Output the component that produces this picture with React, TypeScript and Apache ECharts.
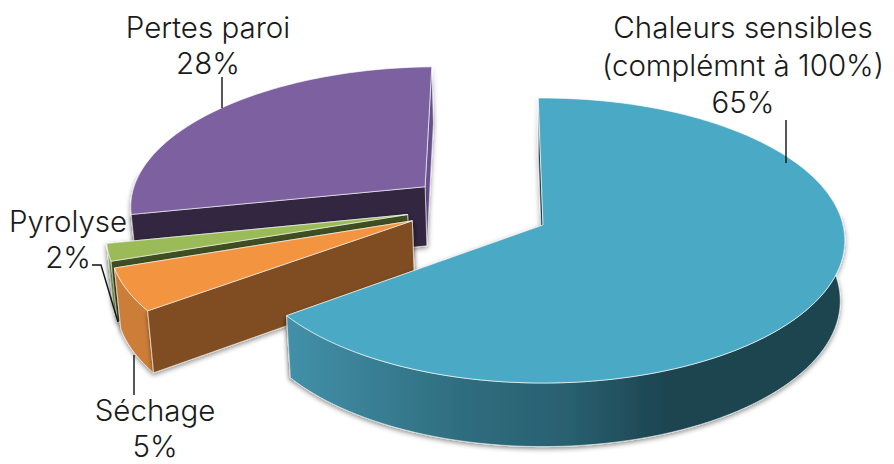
import React, { useEffect, useRef } from "react";
import * as echarts from "echarts";

const names = ["Chaleurs sensibles\n(complémnt à 100%)", "Séchage", "Pyrolyse", "Pertes paroi"];
const values = [65, 5, 2, 28];

const startAngle = -1;
const drawOrder = [3, 2, 1, 0];
const offsets = [[0, 0], [-0.437, 0.03], [-0.455, 0.075], [-0.405, 0.28]];
const topColors = ["#4aa9c5", "#f39540", "#9bbb59", "#7d60a0"];
const startWall = ["#1c4450", "#804e22", "#3f4f22", "#32253f"];
const endWall = ["#1c4450", "#804e22", "#3f4f22", "#6a4f8e"];
const labelCentreX = [743, 155, 68, 208];
const labelLinesY = [[27, 65, 102], [410, 446], [221, 257], [27, 63]];
const leaders = [
  [[786, 120], [786, 163]],
  [[134, 355], [134, 395]],
  [[92, 265], [101, 265], [118, 322]],
  [[222, 77], [222, 108]],
];

const CX = 543, CY = 225, B = 300, A = 140.8, K = 0.109, D = 60, M = 0.015;

function proj(x: number, y: number, z: number): number[] {
  const den = 1 + K * y;
  const sx = CX + (B * x) / den;
  const sy = CY - (A * y) / den + (D * z) / Math.sqrt(den);
  return [CX + (sx - CX) * (1 - M * z), sy];
}

function wallFill(i: number): any {
  if (i === 0) {
    return new echarts.graphic.LinearGradient(290, 0, 845, 0, [
      { offset: 0, color: "#4290a8" },
      { offset: 0.3, color: "#2f6e80" },
      { offset: 0.5, color: "#29606f" },
      { offset: 0.68, color: "#1c4450" },
      { offset: 1, color: "#1c4450" },
    ], true);
  }
  if (i === 1) return "#cc7e39";
  if (i === 2) return "#8aa84e";
  return "#5f4a7f";
}

function sliceGroup(i: number) {
  const total = values.reduce((s, v) => s + v, 0);
  const before = values.slice(0, i).reduce((s, v) => s + v, 0);
  const a0 = startAngle + (before / total) * 360;
  const a1 = a0 + (values[i] / total) * 360;
  const [ox, oy] = offsets[i];
  const n = Math.max(4, Math.round((a1 - a0) / 2));
  const arc: number[][] = [];
  const frontArc: number[][] = [];
  for (let k = 0; k <= n; k++) {
    const t = ((a0 + ((a1 - a0) * k) / n) * Math.PI) / 180;
    const p = [ox + Math.sin(t), oy + Math.cos(t)];
    arc.push(p);
    if (Math.cos(t) < 0.12) frontArc.push(p);
  }
  const P = (p: number[], z: number) => proj(p[0], p[1], z);
  const apex = [ox, oy];
  const edge = "rgba(255,255,255,0.7)";
  const first = arc[0];
  const last = arc[arc.length - 1];
  const outer = [...frontArc.map((p) => P(p, 0)), ...frontArc.slice().reverse().map((p) => P(p, 1))];
  const shadow = { shadowBlur: 5, shadowColor: "rgba(0,0,0,0.45)", shadowOffsetY: 2 };
  return [
    {
      type: "polygon",
      shape: { points: [P(apex, 0), P(last, 0), P(last, 1), P(apex, 1)] },
      style: { fill: endWall[i], stroke: edge, lineWidth: 0.8, ...shadow },
    },
    {
      type: "polygon",
      shape: { points: outer },
      style: { fill: wallFill(i), stroke: edge, lineWidth: 0.8, ...shadow },
    },
    {
      type: "polygon",
      shape: { points: [P(apex, 0), P(first, 0), P(first, 1), P(apex, 1)] },
      style: { fill: startWall[i], stroke: edge, lineWidth: 0.8, ...shadow },
    },
    {
      type: "polygon",
      shape: { points: [P(apex, 0), ...arc.map((p) => P(p, 0))] },
      style: { fill: topColors[i], stroke: edge, lineWidth: 0.9 },
    },
  ];
}

function labelGroup(i: number) {
  const lines = [...names[i].split("\n"), `${values[i]}%`];
  return [
    {
      type: "polyline",
      shape: { points: leaders[i] },
      style: { fill: "none", stroke: "#111", lineWidth: 1.4 },
      z2: 20,
    },
    ...lines.map((line, k) => ({
      type: "text",
      z2: 20,
      style: {
        text: line,
        x: labelCentreX[i],
        y: labelLinesY[i][k],
        fill: "#1a1a1a",
        fontFamily: "Inter",
        fontWeight: 300,
        fontSize: 29.5,
        align: "center",
        verticalAlign: "middle",
      },
    })),
  ];
}

export default function App() {
  const ref = useRef<HTMLDivElement>(null);
  useEffect(() => {
    const chart = echarts.init(ref.current!, null, { renderer: "svg" });
    chart.setOption({
      animation: false,
      backgroundColor: "#ffffff",
      series: [
        {
          type: "custom",
          coordinateSystem: "none",
          silent: true,
          data: drawOrder.map((i) => [i, values[i]]),
          renderItem: (_p: any, api: any) => ({
            type: "group",
            children: sliceGroup(api.value(0)),
          }),
        },
        {
          type: "custom",
          coordinateSystem: "none",
          silent: true,
          z: 5,
          data: drawOrder.map((i) => [i, values[i]]),
          renderItem: (_p: any, api: any) => ({
            type: "group",
            children: labelGroup(api.value(0)),
          }),
        },
      ],
    });
    return () => chart.dispose();
  }, []);
  return <div ref={ref} style={{ width: 894, height: 464, position: "fixed", left: 0, top: 0 }} />;
}
